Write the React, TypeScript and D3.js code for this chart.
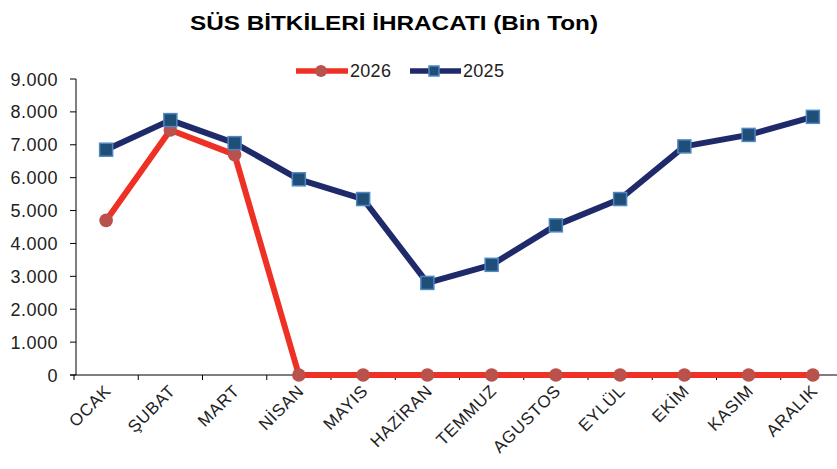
import React from "react";
import * as d3 from "d3";

const months = ["OCAK", "ŞUBAT", "MART", "NİSAN", "MAYIS", "HAZİRAN", "TEMMUZ", "AGUSTOS", "EYLÜL", "EKİM", "KASIM", "ARALIK"];
const series2026 = [4700, 7450, 6700, 0, 0, 0, 0, 0, 0, 0, 0, 0];
const series2025 = [6850, 7750, 7050, 5950, 5350, 2800, 3350, 4550, 5350, 6950, 7300, 7850];
const yTicks = [0, 1000, 2000, 3000, 4000, 5000, 6000, 7000, 8000, 9000];

const W = 837, H = 469;
const left = 76, top = 79, bottom = 375, right = 845;
const FONT = "'Liberation Sans', Arial, sans-serif";

export default function App() {
  const x = d3.scaleBand<string>().domain(months).range([left - 2, right]).padding(0);
  const y = d3.scaleLinear().domain([0, 9000]).range([bottom, top]);
  const cx = (m: string) => (x(m) as number) + x.bandwidth() / 2;
  const line = d3.line<number>().x((_, i) => cx(months[i])).y(d => y(d));
  const fmt = (v: number) => d3.format(",")(v).replace(/,/g, ".");
  const red = "#ee3124", redMk = "#b9514d", blue = "#1f2a6b", sqFill = "#1f4e79", sqStroke = "#4f87c0";
  return (
    <svg width={W} height={H} style={{ position: "absolute", left: 0, top: 0 }} fontFamily={FONT}>
      <text x={190} y={30} fontSize={21} fontWeight="bold" fill="#000" textLength={408} lengthAdjust="spacingAndGlyphs">SÜS BİTKİLERİ İHRACATI (Bin Ton)</text>
      {/* legend */}
      <line x1={296} x2={348} y1={71} y2={71} stroke={red} strokeWidth={5.5} />
      <circle cx={321} cy={71} r={6} fill={redMk} />
      <text x={350} y={77} fontSize={18} fill="#222" letterSpacing={0.3}>2026</text>
      <line x1={410} x2={461} y1={71} y2={71} stroke={blue} strokeWidth={5.5} />
      <rect x={429} y={66} width={10} height={10} fill={sqFill} stroke={sqStroke} strokeWidth={1.5} />
      <text x={463} y={77} fontSize={18} fill="#222" letterSpacing={0.3}>2025</text>
      {/* y axis */}
      <line x1={left} x2={left} y1={top} y2={bottom} stroke="#000" strokeWidth={1} />
      {yTicks.map(t => (
        <g key={t}>
          <line x1={left - 6} x2={left} y1={y(t)} y2={y(t)} stroke="#000" />
          <text x={58} y={y(t) + 6.5} textAnchor="end" fontSize={18} fill="#222" letterSpacing={0.5}>{fmt(t)}</text>
        </g>
      ))}
      {/* x axis */}
      <line x1={left - 6} x2={right} y1={bottom} y2={bottom} stroke="#000" />
      {months.map(m => (
        <g key={m}>
          <line x1={x(m) as number} x2={x(m) as number} y1={bottom} y2={bottom + 5} stroke="#000" />
          <text transform={`translate(${cx(m) + 6},${bottom + 17}) rotate(-45)`} textAnchor="end" fontSize={17} fill="#222" letterSpacing={0.7}>{m}</text>
        </g>
      ))}
      {/* 2025 */}
      <path d={line(series2025) || ""} fill="none" stroke={blue} strokeWidth={6} strokeLinejoin="round" />
      {/* 2026 */}
      <path d={line(series2026) || ""} fill="none" stroke={red} strokeWidth={6} strokeLinejoin="round" />
      {series2026.map((v, i) => (
        <circle key={i} cx={cx(months[i])} cy={y(v)} r={6.8} fill={redMk} />
      ))}
      {series2025.map((v, i) => (
        <rect key={i} x={cx(months[i]) - 6.5} y={y(v) - 6.5} width={13} height={13} fill={sqFill} stroke={sqStroke} strokeWidth={1.5} />
      ))}
    </svg>
  );
}
